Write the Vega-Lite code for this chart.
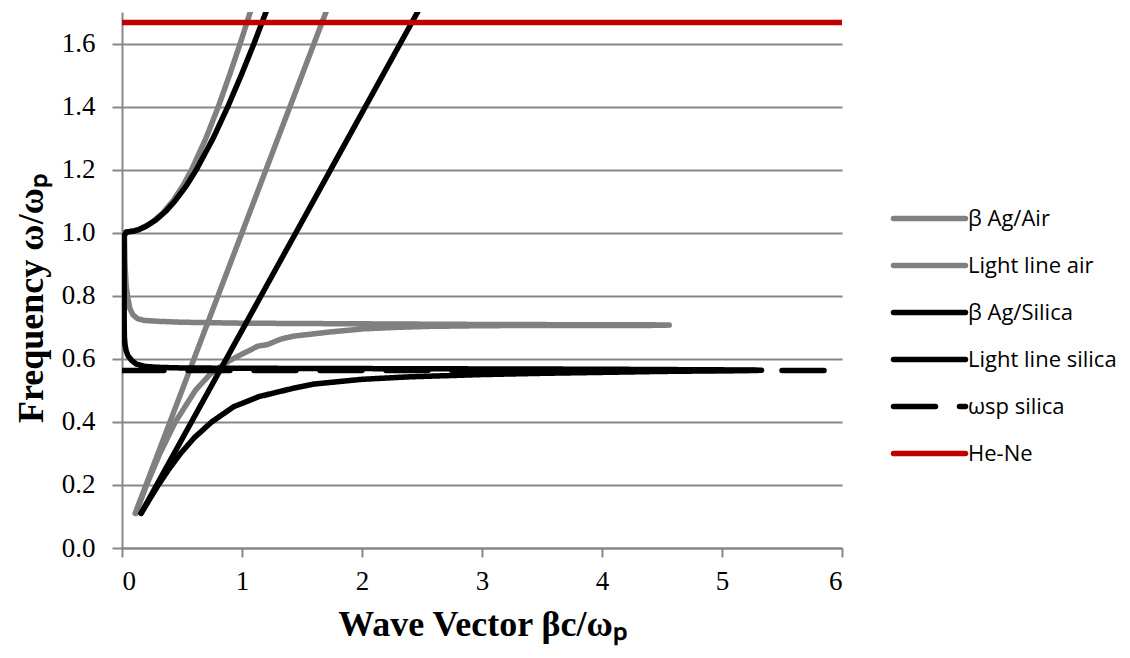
{
  "$schema": "https://vega.github.io/schema/vega-lite/v6.json",
  "width": 720,
  "height": 536,
  "autosize": {"type": "none"},
  "padding": {"left": 122, "top": 12, "right": 288, "bottom": 110},
  "background": "white",
  "config": {
    "view": {"stroke": null},
    "axis": {
      "labelFont": "Liberation Serif",
      "labelFontSize": 27,
      "labelColor": "#000000",
      "titleFont": "Liberation Serif",
      "titleFontWeight": "bold",
      "titleFontSize": 36,
      "titleColor": "#000000",
      "domainColor": "#878787",
      "domainWidth": 2,
      "tickColor": "#878787",
      "tickWidth": 2,
      "gridColor": "#878787",
      "gridWidth": 2
    }
  },
  "data": {
    "values": [
      {"s": "β Ag/Air", "i": 1, "x": 0.115, "y": 0.11},
      {"s": "β Ag/Air", "i": 2, "x": 0.205, "y": 0.2},
      {"s": "β Ag/Air", "i": 3, "x": 0.316, "y": 0.3},
      {"s": "β Ag/Air", "i": 4, "x": 0.445, "y": 0.4},
      {"s": "β Ag/Air", "i": 5, "x": 0.612, "y": 0.5},
      {"s": "β Ag/Air", "i": 6, "x": 0.731, "y": 0.55},
      {"s": "β Ag/Air", "i": 7, "x": 0.82, "y": 0.575},
      {"s": "β Ag/Air", "i": 8, "x": 0.9, "y": 0.595},
      {"s": "β Ag/Air", "i": 9, "x": 1.0, "y": 0.615},
      {"s": "β Ag/Air", "i": 10, "x": 1.07, "y": 0.628},
      {"s": "β Ag/Air", "i": 11, "x": 1.13, "y": 0.64},
      {"s": "β Ag/Air", "i": 12, "x": 1.21, "y": 0.645},
      {"s": "β Ag/Air", "i": 13, "x": 1.32, "y": 0.662},
      {"s": "β Ag/Air", "i": 14, "x": 1.43, "y": 0.672},
      {"s": "β Ag/Air", "i": 15, "x": 1.5, "y": 0.675},
      {"s": "β Ag/Air", "i": 16, "x": 1.73, "y": 0.685},
      {"s": "β Ag/Air", "i": 17, "x": 2.01, "y": 0.695},
      {"s": "β Ag/Air", "i": 18, "x": 2.3, "y": 0.7},
      {"s": "β Ag/Air", "i": 19, "x": 2.57, "y": 0.703},
      {"s": "β Ag/Air", "i": 20, "x": 3.0, "y": 0.705},
      {"s": "β Ag/Air", "i": 21, "x": 3.5, "y": 0.706},
      {"s": "β Ag/Air", "i": 22, "x": 4.0, "y": 0.706},
      {"s": "β Ag/Air", "i": 23, "x": 4.4, "y": 0.706},
      {"s": "β Ag/Air", "i": 24, "x": 4.56, "y": 0.707},
      {"s": "β Ag/Air", "i": 25, "x": 4.4, "y": 0.708},
      {"s": "β Ag/Air", "i": 26, "x": 4.0, "y": 0.708},
      {"s": "β Ag/Air", "i": 27, "x": 3.0, "y": 0.709},
      {"s": "β Ag/Air", "i": 28, "x": 2.0, "y": 0.711},
      {"s": "β Ag/Air", "i": 29, "x": 1.0, "y": 0.713},
      {"s": "β Ag/Air", "i": 30, "x": 0.5, "y": 0.716},
      {"s": "β Ag/Air", "i": 31, "x": 0.3, "y": 0.719},
      {"s": "β Ag/Air", "i": 32, "x": 0.18, "y": 0.722},
      {"s": "β Ag/Air", "i": 33, "x": 0.13, "y": 0.727},
      {"s": "β Ag/Air", "i": 34, "x": 0.09, "y": 0.74},
      {"s": "β Ag/Air", "i": 35, "x": 0.065, "y": 0.76},
      {"s": "β Ag/Air", "i": 36, "x": 0.05, "y": 0.79},
      {"s": "β Ag/Air", "i": 37, "x": 0.035, "y": 0.83},
      {"s": "β Ag/Air", "i": 38, "x": 0.025, "y": 0.9},
      {"s": "β Ag/Air", "i": 39, "x": 0.02, "y": 1.0},
      {"s": "β Ag/Air", "i": 40, "x": 0.08, "y": 1.005},
      {"s": "β Ag/Air", "i": 41, "x": 0.14, "y": 1.01},
      {"s": "β Ag/Air", "i": 42, "x": 0.24, "y": 1.03},
      {"s": "β Ag/Air", "i": 43, "x": 0.334, "y": 1.06},
      {"s": "β Ag/Air", "i": 44, "x": 0.423, "y": 1.1},
      {"s": "β Ag/Air", "i": 45, "x": 0.509, "y": 1.15},
      {"s": "β Ag/Air", "i": 46, "x": 0.58, "y": 1.2},
      {"s": "β Ag/Air", "i": 47, "x": 0.7, "y": 1.3},
      {"s": "β Ag/Air", "i": 48, "x": 0.803, "y": 1.4},
      {"s": "β Ag/Air", "i": 49, "x": 0.896, "y": 1.5},
      {"s": "β Ag/Air", "i": 50, "x": 0.985, "y": 1.6},
      {"s": "β Ag/Air", "i": 51, "x": 1.069, "y": 1.7},
      {"s": "β Ag/Air", "i": 52, "x": 1.11, "y": 1.75},
      {"s": "Light line air", "i": 1, "x": 0.11, "y": 0.11},
      {"s": "Light line air", "i": 2, "x": 1.75, "y": 1.75},
      {"s": "β Ag/Silica", "i": 1, "x": 0.159, "y": 0.11},
      {"s": "β Ag/Silica", "i": 2, "x": 0.223, "y": 0.15},
      {"s": "β Ag/Silica", "i": 3, "x": 0.303, "y": 0.2},
      {"s": "β Ag/Silica", "i": 4, "x": 0.391, "y": 0.25},
      {"s": "β Ag/Silica", "i": 5, "x": 0.488, "y": 0.3},
      {"s": "β Ag/Silica", "i": 6, "x": 0.603, "y": 0.35},
      {"s": "β Ag/Silica", "i": 7, "x": 0.748, "y": 0.4},
      {"s": "β Ag/Silica", "i": 8, "x": 0.93, "y": 0.448},
      {"s": "β Ag/Silica", "i": 9, "x": 1.14, "y": 0.48},
      {"s": "β Ag/Silica", "i": 10, "x": 1.42, "y": 0.506},
      {"s": "β Ag/Silica", "i": 11, "x": 1.6, "y": 0.52},
      {"s": "β Ag/Silica", "i": 12, "x": 2.0, "y": 0.535},
      {"s": "β Ag/Silica", "i": 13, "x": 2.4, "y": 0.543},
      {"s": "β Ag/Silica", "i": 14, "x": 3.0, "y": 0.55},
      {"s": "β Ag/Silica", "i": 15, "x": 3.5, "y": 0.554},
      {"s": "β Ag/Silica", "i": 16, "x": 4.0, "y": 0.557},
      {"s": "β Ag/Silica", "i": 17, "x": 4.5, "y": 0.56},
      {"s": "β Ag/Silica", "i": 18, "x": 5.0, "y": 0.562},
      {"s": "β Ag/Silica", "i": 19, "x": 5.33, "y": 0.564},
      {"s": "β Ag/Silica", "i": 20, "x": 5.0, "y": 0.565},
      {"s": "β Ag/Silica", "i": 21, "x": 4.0, "y": 0.567},
      {"s": "β Ag/Silica", "i": 22, "x": 3.0, "y": 0.568},
      {"s": "β Ag/Silica", "i": 23, "x": 2.0, "y": 0.569},
      {"s": "β Ag/Silica", "i": 24, "x": 1.0, "y": 0.57},
      {"s": "β Ag/Silica", "i": 25, "x": 0.5, "y": 0.571},
      {"s": "β Ag/Silica", "i": 26, "x": 0.3, "y": 0.573},
      {"s": "β Ag/Silica", "i": 27, "x": 0.19, "y": 0.576},
      {"s": "β Ag/Silica", "i": 28, "x": 0.12, "y": 0.583},
      {"s": "β Ag/Silica", "i": 29, "x": 0.08, "y": 0.595},
      {"s": "β Ag/Silica", "i": 30, "x": 0.05, "y": 0.61},
      {"s": "β Ag/Silica", "i": 31, "x": 0.035, "y": 0.625},
      {"s": "β Ag/Silica", "i": 32, "x": 0.025, "y": 0.645},
      {"s": "β Ag/Silica", "i": 33, "x": 0.02, "y": 0.67},
      {"s": "β Ag/Silica", "i": 34, "x": 0.018, "y": 0.72},
      {"s": "β Ag/Silica", "i": 35, "x": 0.018, "y": 0.85},
      {"s": "β Ag/Silica", "i": 36, "x": 0.018, "y": 0.99},
      {"s": "β Ag/Silica", "i": 37, "x": 0.035, "y": 1.002},
      {"s": "β Ag/Silica", "i": 38, "x": 0.1, "y": 1.005},
      {"s": "β Ag/Silica", "i": 39, "x": 0.141, "y": 1.01},
      {"s": "β Ag/Silica", "i": 40, "x": 0.199, "y": 1.02},
      {"s": "β Ag/Silica", "i": 41, "x": 0.281, "y": 1.04},
      {"s": "β Ag/Silica", "i": 42, "x": 0.37, "y": 1.07},
      {"s": "β Ag/Silica", "i": 43, "x": 0.44, "y": 1.1},
      {"s": "β Ag/Silica", "i": 44, "x": 0.538, "y": 1.15},
      {"s": "β Ag/Silica", "i": 45, "x": 0.62, "y": 1.2},
      {"s": "β Ag/Silica", "i": 46, "x": 0.76, "y": 1.3},
      {"s": "β Ag/Silica", "i": 47, "x": 0.882, "y": 1.4},
      {"s": "β Ag/Silica", "i": 48, "x": 0.994, "y": 1.5},
      {"s": "β Ag/Silica", "i": 49, "x": 1.1, "y": 1.6},
      {"s": "β Ag/Silica", "i": 50, "x": 1.2, "y": 1.7},
      {"s": "β Ag/Silica", "i": 51, "x": 1.25, "y": 1.75},
      {"s": "Light line silica", "i": 1, "x": 0.159, "y": 0.11},
      {"s": "Light line silica", "i": 2, "x": 2.536, "y": 1.75},
      {"s": "ωsp silica", "i": 1, "x": 0, "y": 0.563},
      {"s": "ωsp silica", "i": 2, "x": 6, "y": 0.563},
      {"s": "He-Ne", "i": 1, "x": 0, "y": 1.667},
      {"s": "He-Ne", "i": 2, "x": 6, "y": 1.667}
    ]
  },
  "encoding": {
    "x": {
      "field": "x",
      "type": "quantitative",
      "scale": {"domain": [0, 6], "nice": false},
      "axis": {
        "values": [0, 1, 2, 3, 4, 5, 6],
        "format": "d",
        "grid": false,
        "tickSize": 9,
        "labelPadding": 11,
        "title": "Wave Vector βc/ωₚ",
        "titleBaseline": "alphabetic",
        "titleY": 87
      }
    },
    "y": {
      "field": "y",
      "type": "quantitative",
      "scale": {"domain": [0, 1.7], "nice": false, "zero": false},
      "axis": {
        "values": [0, 0.2, 0.4, 0.6, 0.8, 1.0, 1.2, 1.4, 1.6],
        "format": ".1f",
        "grid": true,
        "tickSize": 10,
        "labelPadding": 17,
        "title": "Frequency ω/ωₚ",
        "titleAngle": -90,
        "titleBaseline": "alphabetic",
        "titleAlign": "center",
        "titleX": -80,
        "titleY": 286
      }
    },
    "order": {"field": "i", "type": "quantitative"},
    "color": {
      "field": "s",
      "type": "nominal",
      "scale": {
        "domain": ["β Ag/Air", "Light line air", "β Ag/Silica", "Light line silica", "ωsp silica", "He-Ne"],
        "range": ["#808080", "#808080", "#000000", "#000000", "#000000", "#C00000"]
      },
      "legend": {
        "title": null,
        "orient": "none",
        "legendX": 782,
        "legendY": 181,
        "symbolType": "M-1.61,0H1.61",
        "symbolSize": 2000,
        "symbolStrokeWidth": 5.5,
        "labelFont": "Open Sans",
        "labelFontSize": 22,
        "labelColor": "#000000",
        "labelOffset": 13,
        "rowPadding": 10,
        "labelLimit": 300,
        "encode": {"symbols": {"update": {"strokeCap": {"value": "round"}}}}
      }
    },
    "strokeDash": {
      "field": "s",
      "type": "nominal",
      "scale": {
        "domain": ["β Ag/Air", "Light line air", "β Ag/Silica", "Light line silica", "ωsp silica", "He-Ne"],
        "range": [[1, 0], [1, 0], [1, 0], [1, 0], [42, 24], [1, 0]]
      }
    }
  },
  "layer": [
    {
      "transform": [{"filter": "datum.s === 'β Ag/Air' || datum.s === 'Light line air'"}],
      "mark": {"type": "line", "strokeWidth": 5.5, "strokeCap": "round", "strokeJoin": "round", "clip": true}
    },
    {
      "transform": [{"filter": "datum.s === 'β Ag/Silica' || datum.s === 'Light line silica'"}],
      "mark": {"type": "line", "strokeWidth": 5.5, "strokeCap": "round", "strokeJoin": "round", "clip": true}
    },
    {
      "transform": [{"filter": "datum.s === 'ωsp silica'"}],
      "mark": {"type": "line", "strokeWidth": 5.5, "strokeCap": "round", "strokeJoin": "round", "clip": true}
    },
    {
      "transform": [{"filter": "datum.s === 'He-Ne'"}],
      "mark": {"type": "line", "strokeWidth": 5.5, "strokeCap": "butt", "clip": true}
    }
  ]
}
